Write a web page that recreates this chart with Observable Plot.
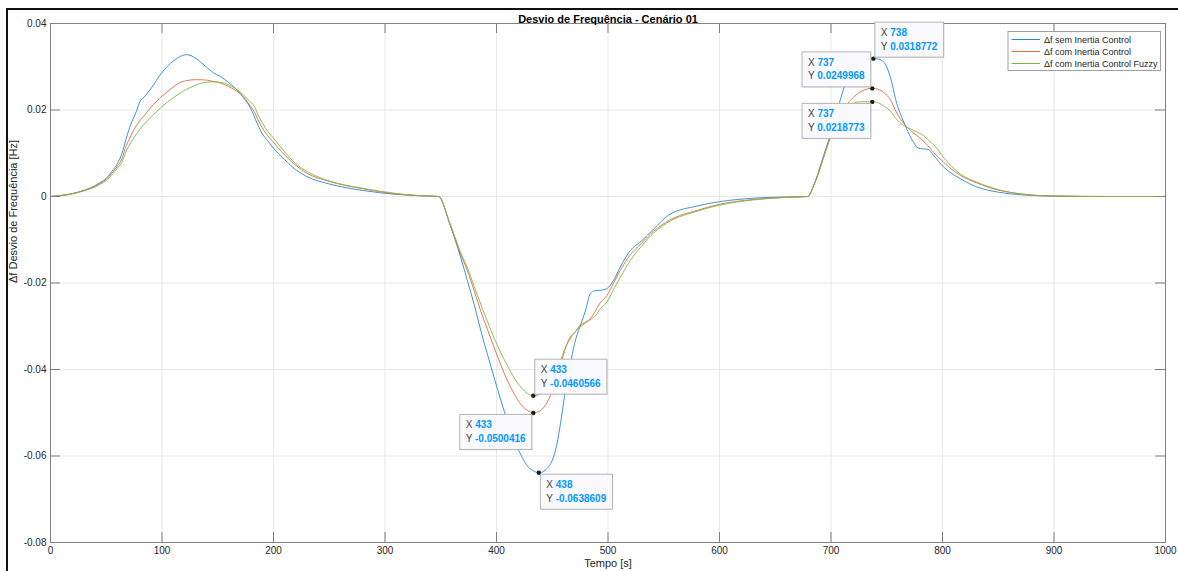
<!DOCTYPE html>
<html><head><meta charset="utf-8">
<script src="https://cdn.jsdelivr.net/npm/d3@7"></script>
<script src="https://cdn.jsdelivr.net/npm/@observablehq/plot@0.6"></script>
<style>
html,body{margin:0;padding:0;background:#fff;}
#wrap{position:relative;width:1178px;height:571px;overflow:hidden;background:#fff;}
#border{position:absolute;left:6px;top:8px;width:1180px;height:580px;border-left:2px solid #111;border-top:2px solid #111;pointer-events:none;}
</style></head><body>
<div id="wrap"><div id="chart"></div><div id="border"></div></div>
<script>
// ---------- data ----------
const tempo = [0,20,30,40,45,50,55,60,64,68,72,76,80,85,90,100,110,115,122,130,135,140,146,152,160,165,170,175,179,182,186,190,195,200,210,220,230,250,280,310,330,348,358,368,374,380,386,392,398,404,410,416,422,428,433,438,444,450,454,458,462,466,470,475,480,484,488,493,499,505,511,520,530,541,555,580,600,630,660,679,685,694,703,712,718,727,733,737,738,742,748,753,759,764,769,774,778,783,787,792,801,816,831,850,870,900,950,1000];
const semInertia = [0,0.0007,0.0014,0.0025,0.0033,0.0042,0.0058,0.0076,0.0099,0.0135,0.0167,0.0190,0.0218,0.0233,0.0249,0.0287,0.0313,0.0322,0.0328,0.0320,0.0310,0.0299,0.0286,0.0278,0.0263,0.0252,0.0238,0.0222,0.0206,0.0190,0.0165,0.0145,0.0128,0.0112,0.0085,0.0062,0.0046,0.0029,0.0014,0.0005,0.0002,0,-0.0063,-0.0142,-0.0195,-0.0250,-0.0311,-0.0366,-0.0420,-0.0472,-0.0520,-0.0564,-0.0598,-0.0624,-0.0634,-0.0639,-0.0632,-0.0610,-0.0575,-0.0515,-0.0445,-0.0390,-0.0340,-0.0300,-0.0262,-0.0225,-0.0218,-0.0217,-0.0213,-0.0194,-0.0163,-0.0125,-0.0103,-0.0075,-0.0042,-0.0022,-0.0012,-0.0004,-0.0001,0,0.0030,0.0100,0.0172,0.0253,0.0277,0.0300,0.0312,0.0318,0.0319,0.0318,0.0309,0.0278,0.0215,0.0180,0.0150,0.0125,0.0112,0.0110,0.0109,0.0095,0.0068,0.0041,0.0022,0.0010,0.0004,0.0001,0,0];
const comInertia = [0,0.0007,0.0014,0.0024,0.0031,0.0040,0.0054,0.0070,0.0087,0.0118,0.0140,0.0160,0.0175,0.0190,0.0206,0.0232,0.0253,0.0262,0.0268,0.0270,0.0270,0.0269,0.0266,0.0263,0.0254,0.0247,0.0238,0.0225,0.0210,0.0199,0.0178,0.0158,0.0140,0.0125,0.0096,0.0072,0.0054,0.0035,0.0018,0.0006,0.0002,0,-0.0062,-0.0135,-0.0172,-0.0218,-0.0266,-0.0308,-0.0350,-0.0390,-0.0427,-0.0457,-0.0481,-0.0495,-0.0500,-0.0497,-0.0482,-0.0450,-0.0418,-0.0385,-0.0350,-0.0325,-0.0315,-0.0298,-0.0290,-0.0283,-0.0268,-0.0246,-0.0229,-0.0200,-0.0171,-0.0135,-0.0108,-0.0080,-0.0055,-0.0032,-0.0018,-0.0007,-0.0002,0,0.0028,0.0095,0.0163,0.0205,0.0224,0.0243,0.0249,0.0250,0.0250,0.0248,0.0239,0.0225,0.0193,0.0173,0.0158,0.0147,0.0139,0.0128,0.0117,0.0102,0.0079,0.0049,0.0031,0.0015,0.0006,0.0001,0,0];
const comFuzzy = [0,0.0006,0.0013,0.0022,0.0029,0.0037,0.0050,0.0065,0.0079,0.0105,0.0125,0.0140,0.0155,0.0170,0.0183,0.0208,0.0228,0.0237,0.0248,0.0257,0.0262,0.0264,0.0265,0.0264,0.0258,0.0251,0.0242,0.0230,0.0219,0.0212,0.0190,0.0170,0.0150,0.0135,0.0103,0.0076,0.0058,0.0036,0.0019,0.0007,0.0002,0,-0.0060,-0.0130,-0.0165,-0.0208,-0.0250,-0.0290,-0.0328,-0.0362,-0.0392,-0.0420,-0.0441,-0.0456,-0.0461,-0.0458,-0.0450,-0.0425,-0.0400,-0.0375,-0.0348,-0.0330,-0.0315,-0.0302,-0.0292,-0.0285,-0.0278,-0.0260,-0.0244,-0.0215,-0.0187,-0.0148,-0.0115,-0.0084,-0.0058,-0.0034,-0.0020,-0.0008,-0.0002,0,0.0028,0.0095,0.0160,0.0200,0.0214,0.0219,0.0219,0.0219,0.0219,0.0217,0.0208,0.0198,0.0178,0.0166,0.0159,0.0153,0.0148,0.0141,0.0131,0.0120,0.0090,0.0052,0.0033,0.0016,0.0006,0.0001,0,0];
const serieNomes = ["Δf sem Inertia Control","Δf com Inertia Control","Δf com Inertia Control Fuzzy"];
const xTicks = [0,100,200,300,400,500,600,700,800,900,1000];
const yTicks = [-0.08,-0.06,-0.04,-0.02,0,0.02,0.04];
const tipX = [433,433,438,737,738,737];
const tipY = [-0.0460566,-0.0500416,-0.0638609,0.0249968,0.0318772,0.0218773];
const titulo = "Desvio de Frequência - Cenário 01";
const xLabel = "Tempo [s]";
const yLabel = "Δf Desvio de Frequência [Hz]";

// ---------- styles ----------
const FONT = "'Liberation Sans', Arial, Helvetica, sans-serif";
const cores = ["#2a88d0","#e06a3c","#82b548"];
const axisColor = "#808080";
const gridColor = "#e8e8e8";
const tipAnchors = ["ur","ll","lr","ul","ur","ll"];
const W = 1178, H = 571, mL = 50, mR = 13, mT = 23, mB = 29;
const plotW = W - mL - mR, plotH = H - mT - mB;

const series = [semInertia, comInertia, comFuzzy];
const rows = [];
series.forEach((vals, k) => tempo.forEach((t, i) => rows.push({t, v: vals[i], s: serieNomes[k]})));
const tips = tipX.map((x, i) => ({x, y: tipY[i], a: tipAnchors[i]}));

const canvas = document.createElement("canvas");
const ctx = canvas.getContext("2d");
function tw(txt, bold) { ctx.font = (bold ? "bold " : "") + "10px " + FONT; return ctx.measureText(txt).width; }

function datatipMark(index, scales, values, dimensions) {
  const g = d3.create("svg:g").attr("font-family", FONT).attr("font-size", 10).attr("text-anchor", "start");
  tips.forEach(tp => {
    const px = scales.x(tp.x), py = scales.y(tp.y);
    const l1 = String(tp.x), l2 = String(tp.y);
    const w = 12 + Math.max(tw("X ") + tw(l1, true), tw("Y ") + tw(l2, true));
    const h = 35, gap = 1.5;
    const bx = tp.a[1] === "r" ? px + gap : px - gap - w;
    const by = tp.a[0] === "u" ? py - gap - h : py + gap;
    g.append("rect").attr("x", bx + 1.5).attr("y", by + 1.5).attr("width", w).attr("height", h)
      .attr("fill", "#000").attr("fill-opacity", 0.07);
    g.append("rect").attr("x", bx + 0.5).attr("y", by + 0.5).attr("width", w).attr("height", h)
      .attr("fill", "#fafafe").attr("stroke", "#b4b4b4").attr("stroke-width", 1);
    [["X ", l1, 14.5], ["Y ", l2, 28]].forEach(([a, b, dy]) => {
      const t = g.append("text").attr("x", bx + 6.5).attr("y", by + dy).attr("text-anchor", "start");
      t.append("tspan").attr("fill", "#404040").text(a);
      t.append("tspan").attr("fill", "#0099ff").attr("font-weight", "bold").text(b);
    });
  });
  return g.node();
}

function legendMark(index, scales, values, dimensions) {
  const {width, marginRight, marginTop} = dimensions;
  const x2 = width - marginRight - 4.5, bw = 152.5, x1 = x2 - bw, y1 = marginTop + 8.5, bh = 39;
  const g = d3.create("svg:g").attr("font-family", FONT).attr("font-size", 9).attr("text-anchor", "start");
  g.append("rect").attr("x", x1).attr("y", y1).attr("width", bw).attr("height", bh)
    .attr("fill", "#fff").attr("stroke", "#a0a0a0").attr("stroke-width", 1);
  serieNomes.forEach((nm, i) => {
    const cy = y1 + 8 + i * 12;
    g.append("line").attr("x1", x1 + 3.5).attr("x2", x1 + 32).attr("y1", cy).attr("y2", cy)
      .attr("stroke", cores[i]).attr("stroke-width", 1);
    g.append("text").attr("x", x1 + 36).attr("y", cy).attr("dy", "0.35em").attr("text-anchor", "start")
      .attr("fill", "#262626").text(nm);
  });
  return g.node();
}

const chart = Plot.plot({
  width: W, height: H, marginLeft: mL, marginRight: mR, marginTop: mT, marginBottom: mB,
  style: {fontFamily: FONT, background: "transparent", overflow: "visible"},
  x: {domain: [0, 1000], axis: null},
  y: {domain: [-0.08, 0.04], axis: null},
  color: {domain: serieNomes, range: cores},
  marks: [
    Plot.ruleX(xTicks.slice(1, -1), {x: d => d, stroke: gridColor}),
    Plot.ruleY(yTicks.slice(1, -1), {y: d => d, stroke: gridColor}),
    Plot.line(rows, {x: "t", y: "v", z: "s", stroke: "s", strokeWidth: 0.9, curve: "monotone-x"}),
    Plot.tickX(xTicks, {x: d => d, insetTop: plotH - 10, stroke: axisColor}),
    Plot.tickX(xTicks, {x: d => d, insetBottom: plotH - 10, stroke: axisColor}),
    Plot.tickY(yTicks, {y: d => d, insetRight: plotW - 10, stroke: axisColor}),
    Plot.tickY(yTicks, {y: d => d, insetLeft: plotW - 10, stroke: axisColor}),
    Plot.frame({stroke: axisColor}),
    Plot.axisX(xTicks, {anchor: "bottom", tickSize: 0, tickPadding: 4, label: null, fontSize: 10, fill: "#262626", tickFormat: d => String(d)}),
    Plot.axisY(yTicks, {anchor: "left", tickSize: 0, tickPadding: 4, label: null, fontSize: 10, fill: "#262626", tickFormat: d => d === 0 ? "0" : d.toFixed(2)}),
    Plot.text([titulo], {frameAnchor: "top", dy: -8, text: d => d, fontWeight: "bold", fontSize: 11, fill: "#000"}),
    Plot.text([xLabel], {frameAnchor: "bottom", dy: 24, text: d => d, fontSize: 11, fill: "#262626"}),
    Plot.text([yLabel], {frameAnchor: "left", dx: -37, rotate: -90, text: d => d, fontSize: 11, fill: "#262626"}),
    Plot.dot(tips, {x: "x", y: "y", r: 2.2, fill: "#1a1a1a", stroke: null}),
    datatipMark,
    legendMark
  ]
});
document.getElementById("chart").appendChild(chart);
</script>
</body></html>
